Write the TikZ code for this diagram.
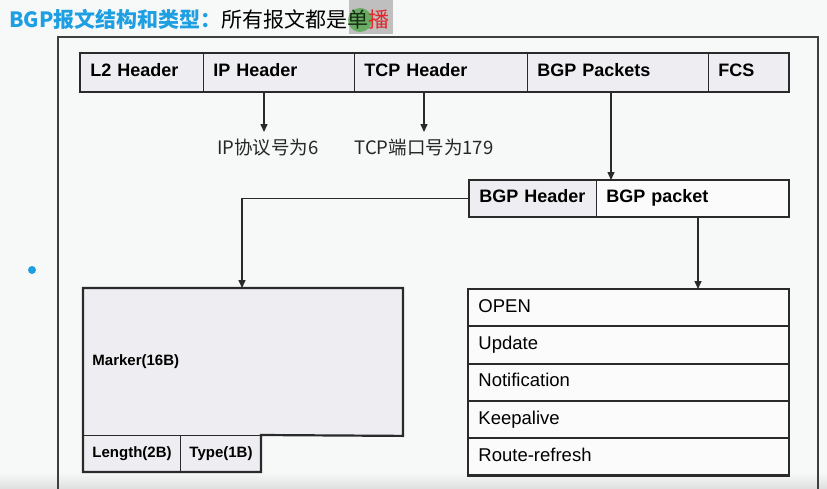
\documentclass[tikz,border=0pt]{standalone}
\usepackage{fontspec}
\setmainfont{Liberation Sans}
\newfontfamily\cjk{Noto Sans CJK SC}
\usetikzlibrary{arrows.meta}
\definecolor{bg}{HTML}{F7F9F9}
\definecolor{cellc}{HTML}{EEEDF1}
\definecolor{whitec}{HTML}{FBFBFB}
\definecolor{linec}{HTML}{2A2A2A}
\definecolor{titleblue}{HTML}{1E9FE2}
\definecolor{hlred}{HTML}{E0262A}
\definecolor{hlgreen}{HTML}{5BAA55}
\tikzset{
  cellbase/.style={draw=linec, line width=0.9pt, inner xsep=10pt, inner ysep=0pt,
    anchor=north west, align=left, text height=13pt, text depth=4pt},
  cell/.style={cellbase, fill=cellc, minimum height=38pt, text width={#1pt-20pt},
    font=\fontsize{18}{20}\selectfont\bfseries},
  subcell/.style={cellbase, fill=cellc, minimum height=36pt, text width={#1pt-20pt},
    font=\fontsize{18}{20}\selectfont\bfseries},
  smallcell/.style={cellbase, inner xsep=9pt, fill=cellc, minimum height=36pt,
    text width={#1pt-18pt}, text height=11pt, text depth=3pt,
    font=\fontsize{15}{17}\selectfont\bfseries},
  typerow/.style={cellbase, fill=whitec, minimum height=36.4pt, text width=300pt,
    font=\fontsize{18.5}{20}\selectfont},
  outline/.style={draw=linec, line width=2.2pt, line join=miter},
  arr/.style={draw=linec, line width=1.5pt, -{Triangle[length=8pt,width=7pt]}},
  note/.style={font=\cjk\fontsize{18.5}{20}\selectfont, text=black!85, inner sep=0pt}
}
\begin{document}
\begin{tikzpicture}[x=1pt,y=-1pt]
  % page
  \fill[bg] (0,0) rectangle (827,488);
  \useasboundingbox (0,0) rectangle (827,488);
  \shade[top color=bg, bottom color=black!12] (0,472) rectangle (827,488);

  % heading
  \fill[black!25] (349,0) rectangle (393,34);
  \fill[hlgreen, opacity=0.85] (360,20) circle (12);
  \node[anchor=west, inner sep=0pt, font=\cjk\fontsize{21}{24}\selectfont] (title) at (9,19)
    {\textcolor{titleblue}{\bfseries BGP报文结构和类型：}所有报文都是\textcolor{black!75!hlgreen}{单}\textcolor{hlred}{播}};

  % bullet
  \fill[titleblue] (32,270) circle (4);

  % outer frame
  \draw[draw=linec!90, line width=2pt] (58,490) -- (58,37) -- (818,37) -- (818,490);

  % frame layout
  \node[cell=123] (l2)   at (80,53)  {L2 Header};
  \node[cell=151] (ip)   at (203,53) {IP Header};
  \node[cell=173] (tcp)  at (354,53) {TCP Header};
  \node[cell=181] (bgpp) at (527,53) {BGP Packets};
  \node[cell=80]  (fcs)  at (708,53) {FCS};
  \draw[outline] (l2.north west) rectangle (fcs.south east);

  % notes under IP and TCP headers
  \coordinate (ipend)  at (264,132);
  \coordinate (tcpend) at (424,132);
  \node[note, anchor=north] (ipnote)  at (268,139) {IP协议号为6};
  \node[note, anchor=north] (tcpnote) at (424,139) {TCP端口号为179};
  \draw[arr] (ipend |- ip.south) -- (ipend);
  \draw[arr] (tcpend |- tcp.south) -- (tcpend);

  % BGP message
  \node[subcell=127] (bgph) at (469,180) {BGP Header};
  \node[subcell=192, fill=whitec] (bgpk) at (596,180) {BGP packet};
  \draw[outline] (bgph.north west) rectangle (bgpk.south east);
  \coordinate (bgpx) at (611,0);
  \draw[arr] (bgpx |- bgpp.south) -- (bgpx |- bgpk.north);

  % BGP header fields
  \node[cellbase, draw=none, fill=cellc, inner xsep=9pt, minimum height=147pt,
        text width=301pt, text height=11pt, text depth=3pt,
        font=\fontsize{15}{17}\selectfont\bfseries] (marker) at (83,288) {Marker(16B)};
  \node[smallcell=97] (len) at (83,435)  {Length(2B)};
  \node[smallcell=80] (typ) at (180,435) {Type(1B)};
  \draw[outline] (marker.north west) -- (marker.north east) -- (marker.south east)
    -- (typ.north east) -- (typ.south east) -- (len.south west) -- cycle;
  \coordinate (hdrx) at (242,0);
  \draw[arr] (bgph.west) -| (hdrx |- marker.north);

  % message types
  \node[typerow] (open)  at (468,289)   {OPEN};
  \node[typerow] (upd)   at (open.south west) {Update};
  \node[typerow] (notif) at (upd.south west)  {Notification};
  \node[typerow] (keep)  at (notif.south west) {Keepalive};
  \node[typerow] (rref)  at (keep.south west)  {Route-refresh};
  \draw[outline] (open.north west) rectangle (rref.south east);
  \coordinate (typx) at (698,0);
  \draw[arr] (typx |- bgpk.south) -- (typx |- open.north);
\end{tikzpicture}
\end{document}
